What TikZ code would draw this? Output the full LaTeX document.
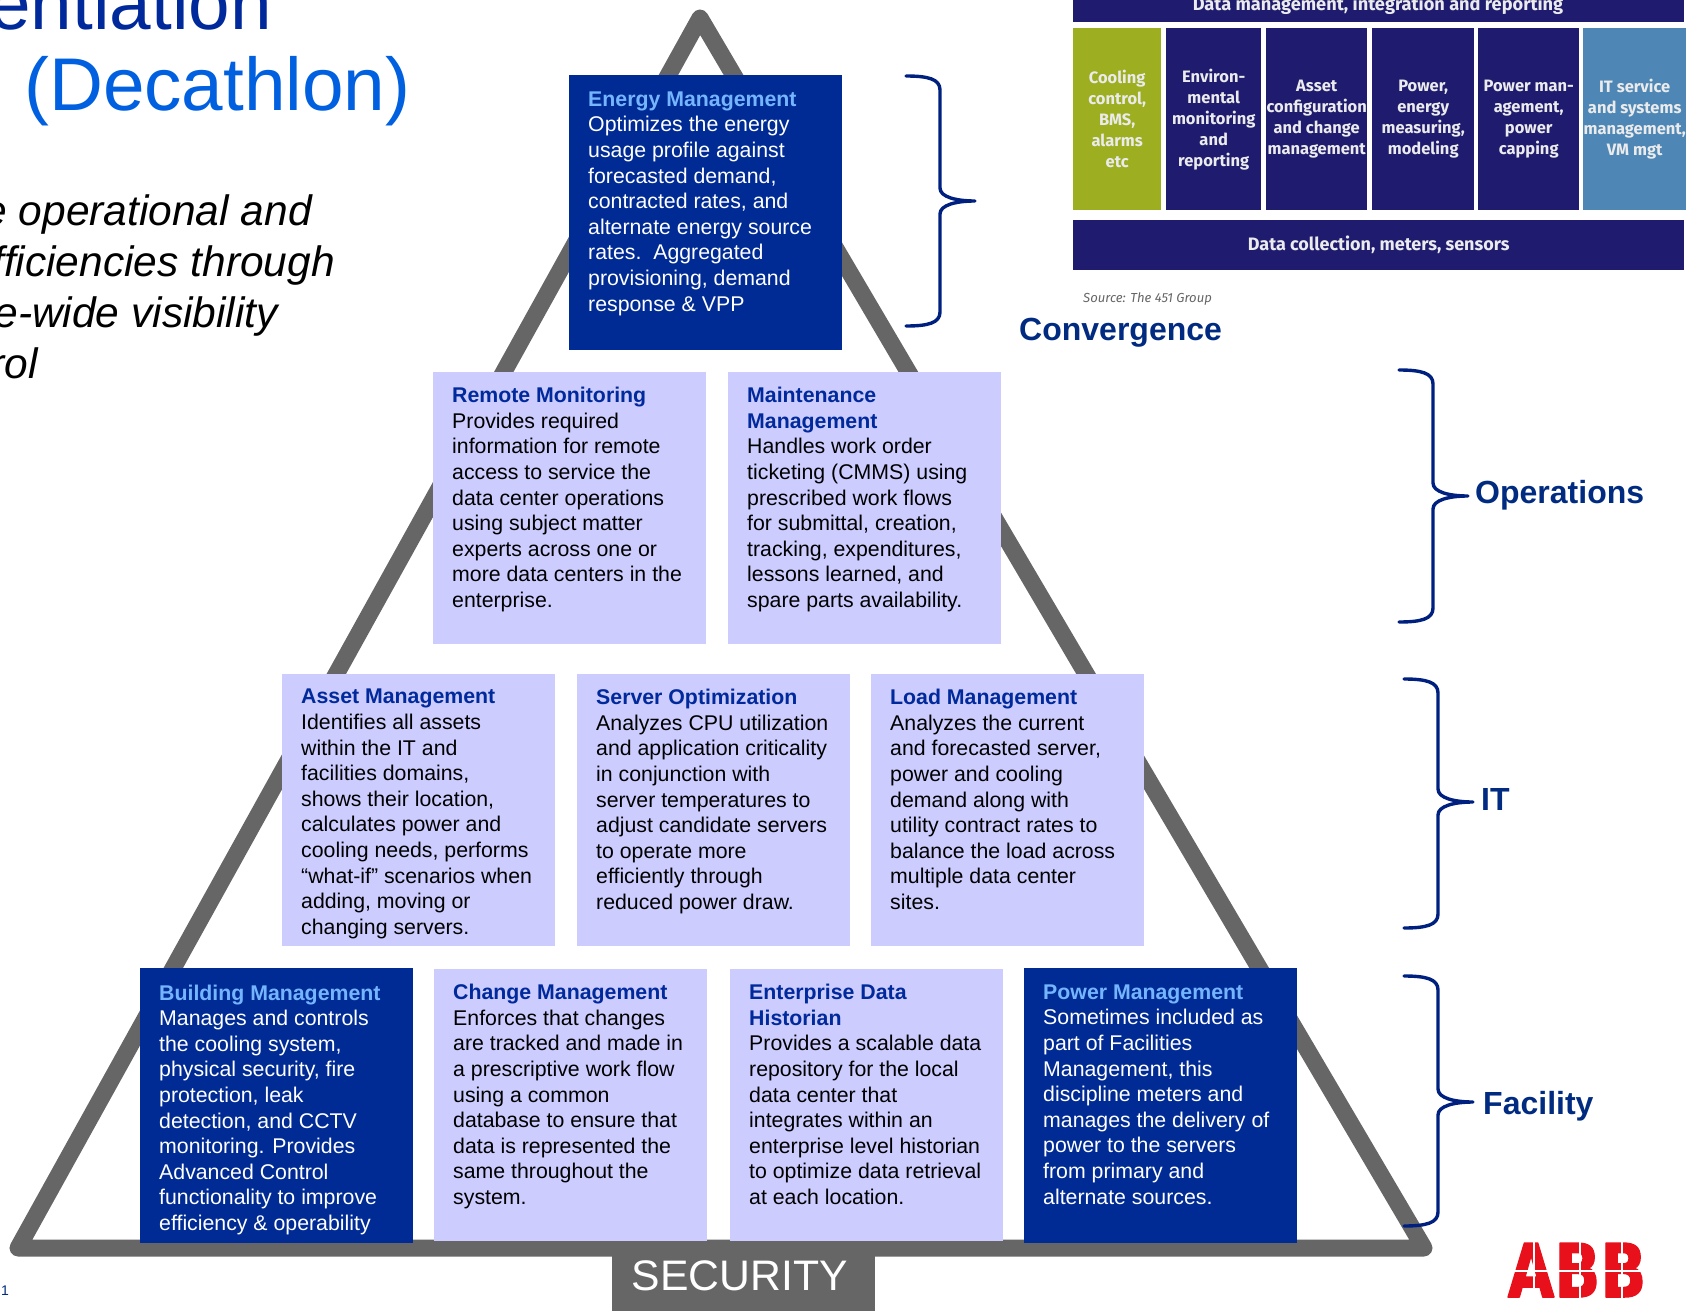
\documentclass[tikz,border=0pt]{standalone}
\usepackage{fontspec}
\setmainfont{Liberation Sans}
\newfontfamily\blockfont{Fira Sans}
\newfontfamily\logofont[BoldFeatures={FakeBold=2}]{DejaVu Sans}
\definecolor{panelblue}{HTML}{002B95}
\definecolor{panellight}{HTML}{CCCCFF}
\definecolor{titlesky}{HTML}{75B5FF}
\definecolor{titlenavy}{HTML}{00299B}
\definecolor{headnavy}{HTML}{002B80}
\definecolor{bracenavy}{HTML}{002080}
\definecolor{subtitleblue}{HTML}{0060E0}
\definecolor{trigray}{HTML}{666666}
\definecolor{blocknavy}{HTML}{1F1C70}
\definecolor{blockgreen}{HTML}{9DAE21}
\definecolor{blockteal}{HTML}{4E87B5}
\definecolor{abbred}{HTML}{E8101A}
\newcommand{\paneltext}[1]{\parbox[t][272pt][t]{235pt}{\raggedright\vspace*{15pt}#1}}
\newcommand{\darktitle}[1]{\textbf{\textcolor{titlesky}{#1}}}
\newcommand{\lighttitle}[1]{\textbf{\textcolor{titlenavy}{#1}}}
\newcommand{\curlybrace}[3]{\draw [bracket] (#1) .. controls +(22,0) and +(0,-11) .. ++(34,14) -- ([shift={(-35,-13)}]#2) .. controls +(0,9) and +(-19,0) .. (#2) .. controls +(-19,0) and +(0,-9) .. ([shift={(-35,13)}]#2) -- ([shift={(34,-14)}]#3) .. controls +(0,11) and +(22,0) .. (#3);}
\tikzset{
	panel/.style={anchor=north west,inner xsep=19pt,inner ysep=0pt,font=\fontsize{21.3}{25.6}\selectfont},
	darkpanel/.style={panel,fill=panelblue,text=white,minimum height=275pt},
	lightpanel/.style={panel,fill=panellight,text=black},
	blockcell/.style={anchor=north west,inner sep=0pt,minimum height=182pt,align=center,text=white!92!black,font=\blockfont\bfseries\fontsize{16.5}{21}\selectfont},
	blockbar/.style={anchor=north west,inner sep=0pt,fill=blocknavy,minimum width=611pt,text=white!92!black,font=\blockfont\bfseries\fontsize{18}{21}\selectfont},
	bracket/.style={draw=bracenavy,line width=3.4pt},
	grouplabel/.style={anchor=west,inner sep=0pt,text=headnavy,font=\bfseries\fontsize{32}{36}\selectfont},
	bodyline/.style={anchor=base east,inner sep=0pt,font=\itshape\fontsize{42.5}{50}\selectfont},
	logocut/.style={line width=1.5pt,line cap=butt,white}
}
\begin{document}
\begin{tikzpicture}[line cap=round,line join=round,x=1pt,y=-1pt]
	\useasboundingbox (0,0) rectangle (1686,1311);
	\clip (0,0) rectangle (1686,1311);
	%%%%%%%%%%%%%%%%%%%%% T I T L E %%%%%%%%%%%%%%%%%%%%%
	\node[anchor=base east,inner sep=0pt,text=titlenavy,font=\fontsize{74.7}{80}\selectfont] (titleone) at (272,30) {entiation};
	\node[anchor=base west,inner sep=0pt,text=subtitleblue,font=\fontsize{74.7}{80}\selectfont] (titletwo) at (24,111) {(Decathlon)};
	\node[bodyline] (bodyone) at (312,225) {e operational and};
	\node[bodyline] (bodytwo) at (335,276) {fficiencies through};
	\node[bodyline] (bodythree) at (278,327) {e-wide visibility};
	\node[bodyline] (bodyfour) at (38,378) {rol};
	
	%%%% PYRAMID
	\coordinate (triapex) at (700,18);
	\coordinate (trileft) at (18,1248);
	\coordinate (triright) at (1424,1248);
	\draw [line width=17pt,draw=trigray] (trileft) -- (triapex) -- (triright) -- cycle;
	
	%TOP
	\node[darkpanel] (energy) at (569,75) {\paneltext{\darktitle{Energy Management}\\Optimizes the energy\\usage profile against\\forecasted demand,\\contracted rates, and\\alternate energy source\\rates.\ \ Aggregated\\provisioning, demand\\response \& VPP}};
	
	%OPERATIONS
	\node[lightpanel] (remote) at (433,372) {\paneltext{\lighttitle{Remote Monitoring}\\Provides required\\information for remote\\access to service the\\data center operations\\using subject matter\\experts across one or\\more data centers in the\\enterprise.}};
	\node[lightpanel] (maintenance) at (728,372) {\paneltext{\lighttitle{Maintenance\\Management}\\Handles work order\\ticketing (CMMS) using\\prescribed work flows\\for submittal, creation,\\tracking, expenditures,\\lessons learned, and\\spare parts availability.}};
	
	%IT
	\node[lightpanel] (asset) at (282,674) {\paneltext{\lighttitle{Asset Management}\\Identifies all assets\\within the IT and\\facilities domains,\\shows their location,\\calculates power and\\cooling needs, performs\\“what-if” scenarios when\\adding, moving or\\changing servers.}};
	\node[lightpanel] (server) at (577,674) {\paneltext{\lighttitle{Server Optimization}\\Analyzes CPU utilization\\and application criticality\\in conjunction with\\server temperatures to\\adjust candidate servers\\to operate more\\efficiently through\\reduced power draw.}};
	\node[lightpanel] (load) at (871,674) {\paneltext{\lighttitle{Load Management}\\Analyzes the current\\and forecasted server,\\power and cooling\\demand along with\\utility contract rates to\\balance the load across\\multiple data center\\sites.}};
	
	%FACILITY
	\node[darkpanel] (building) at (140,968) {\paneltext{\darktitle{Building Management}\\Manages and controls\\the cooling system,\\physical security, fire\\protection, leak\\detection, and CCTV\\monitoring. Provides\\Advanced Control\\functionality to improve\\efficiency \& operability}};
	\node[lightpanel] (change) at (434,969) {\paneltext{\lighttitle{Change Management}\\Enforces that changes\\are tracked and made in\\a prescriptive work flow\\using a common\\database to ensure that\\data is represented the\\same throughout the\\system.}};
	\node[lightpanel] (historian) at (730,969) {\paneltext{\lighttitle{Enterprise Data\\Historian}\\Provides a scalable data\\repository for the local\\data center that\\integrates within an\\enterprise level historian\\to optimize data retrieval\\at each location.}};
	\node[darkpanel] (powermgmt) at (1024,968) {\paneltext{\darktitle{Power Management}\\Sometimes included as\\part of Facilities\\Management, this\\discipline meters and\\manages the delivery of\\power to the servers\\from primary and\\alternate sources.}};
	\node[anchor=north west,inner sep=0pt,minimum width=263pt,minimum height=70pt,fill=trigray,text=white,font=\fontsize{42.7}{48}\selectfont] (security) at (612,1241) {\hspace*{-8pt}\raisebox{-1pt}{SECURITY}};
	
	%%%%%%%%%%%%%%%%%%%%% B R A C E S %%%%%%%%%%%%%%%%%%%%%
	\coordinate (energytop) at (906,76);
	\coordinate (energytip) at (975,201);
	\coordinate (energybot) at (906,326);
	\coordinate (opstop) at (1399,370);
	\coordinate (opstip) at (1468,496);
	\coordinate (opsbot) at (1399,622);
	\coordinate (ittop) at (1404,679);
	\coordinate (ittip) at (1473,802);
	\coordinate (itbot) at (1404,928);
	\coordinate (factop) at (1404,976);
	\coordinate (factip) at (1473,1102);
	\coordinate (facbot) at (1404,1226);
	\curlybrace{energytop}{energytip}{energybot}
	\curlybrace{opstop}{opstip}{opsbot}
	\curlybrace{ittop}{ittip}{itbot}
	\curlybrace{factop}{factip}{facbot}
	\node[grouplabel] (convergence) at (1019,333) {Convergence};
	\node[grouplabel] (operations) at (1475,495) {Operations};
	\node[grouplabel] (itlabel) at (1481,799) {IT};
	\node[grouplabel] (facility) at (1483,1106) {Facility};
	
	%%%% VENDOR BLOCK
	\node[blockbar,minimum height=22pt] (datatop) at (1073,0) {};
	\node[anchor=base,inner sep=0pt,text=white!92!black,font=\blockfont\bfseries\fontsize{18.2}{21}\selectfont] (datatoptext) at (1378,11) {Data management, integration and reporting};
	\node[blockcell,fill=blockgreen,minimum width=88pt] (cooling) at (1073,28) {Cooling\\control,\\BMS,\\alarms\\etc};
	\node[blockcell,fill=blocknavy,minimum width=95pt] (environ) at (1166,28) {Environ-\\mental\\monitoring\\and\\reporting};
	\node[blockcell,fill=blocknavy,minimum width=101pt] (assetcfg) at (1266,28) {Asset\\configuration\\and change\\management};
	\node[blockcell,fill=blocknavy,minimum width=102pt] (measuring) at (1372,28) {Power,\\energy\\measuring,\\modeling};
	\node[blockcell,fill=blocknavy,minimum width=101pt] (capping) at (1478,28) {Power man-\\agement,\\power\\capping};
	\node[blockcell,fill=blockteal,minimum width=103pt] (service) at (1583,28) {IT service\\and systems\\management,\\VM mgt};
	\node[blockbar,minimum height=50pt] (databot) at (1073,220) {Data collection, meters, sensors};
	\node[anchor=base west,inner sep=0pt,text=trigray,font=\blockfont\itshape\fontsize{13.1}{15}\selectfont] (source) at (1083,302) {Source: The 451 Group};
	
	%%%% LOGO AND PAGE
	\node[anchor=base,inner sep=0pt,xscale=0.815,transform shape,text=abbred,font=\logofont\bfseries\fontsize{74}{80}\selectfont] (logo) at (1577,1297) {ABB};
	\draw [logocut] (1500,1271) -- (1650,1271);
	\draw [logocut] (1534,1240) -- (1534,1299);
	\draw [logocut] (1580,1240) -- (1580,1299);
	\draw [logocut] (1622,1240) -- (1622,1299);
	\node[anchor=base west,inner sep=0pt,text=headnavy,font=\fontsize{14}{15}\selectfont] (pagenum) at (1,1295) {1};
\end{tikzpicture}
\end{document}
